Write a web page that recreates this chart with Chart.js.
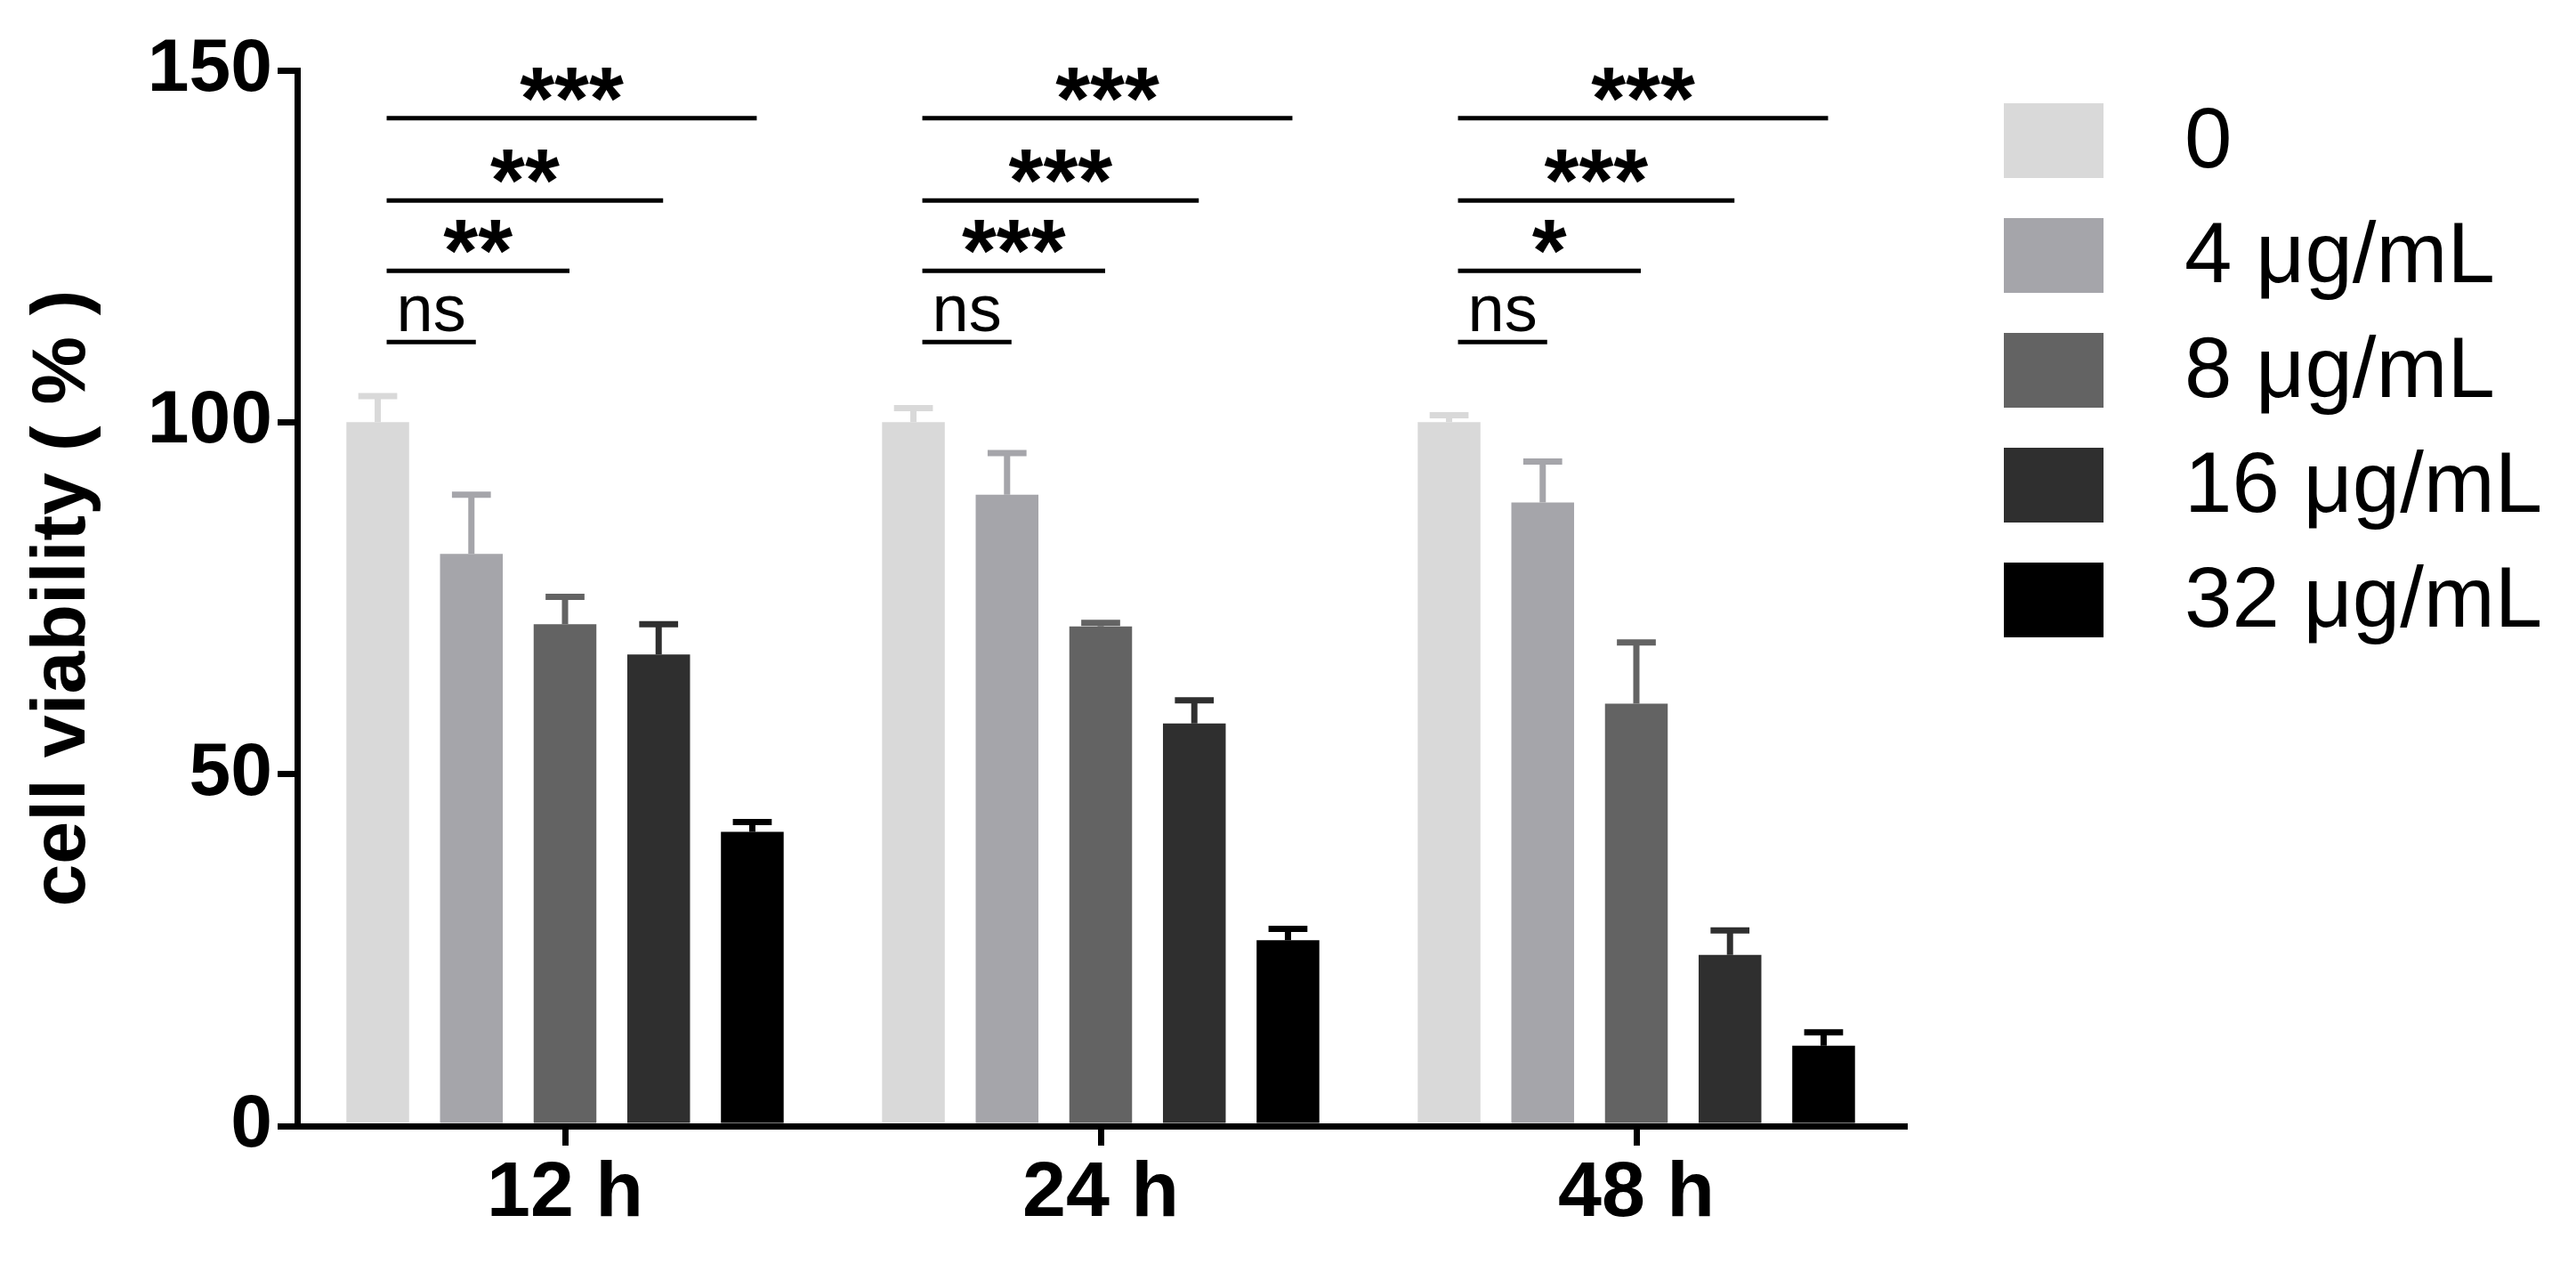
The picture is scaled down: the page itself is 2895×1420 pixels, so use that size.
<!DOCTYPE html>
<html><head><meta charset="utf-8">
<script src="https://cdn.jsdelivr.net/npm/chart.js@4"></script>
<style>html,body{margin:0;padding:0;background:#fff}</style>
</head><body>
<canvas id="c" width="2895" height="1420"></canvas>
<script>
const categories = ["12 h", "24 h", "48 h"];
const seriesLabels = ["0", "4 μg/mL", "8 μg/mL", "16 μg/mL", "32 μg/mL"];
const colors = ["#d9d9d9", "#a5a5aa", "#636363", "#2f2f2f", "#000000"];
const v0 = [100, 100, 100];
const v4 = [81.3, 89.7, 88.6];
const v8 = [71.3, 71.0, 60.0];
const v16 = [67.0, 57.2, 24.3];
const v32 = [41.8, 26.4, 11.4];
const e0 = [103.7, 102.0, 101.0];
const e4 = [89.7, 95.6, 94.4];
const e8 = [75.2, 71.5, 68.7];
const e16 = [71.3, 60.5, 27.8];
const e32 = [43.2, 28.0, 13.3];
const yTicks = [0, 50, 100, 150];
const sigLevels = [111.4, 121.5, 131.5, 143.2];
const sigLabels = [["ns","**","**","***"],["ns","***","***","***"],["ns","*","***","***"]];

const values = [v0, v4, v8, v16, v32];
const errs = [e0, e4, e8, e16, e32];
const FONT = "'Liberation Sans', Arial, sans-serif";

const overlay = {
  id: 'overlay',
  afterDatasetsDraw(chart) {
    const ctx = chart.ctx, y = chart.scales.y;
    ctx.save();
    values.forEach((vals, i) => {
      const meta = chart.getDatasetMeta(i);
      meta.data.forEach((bar, j) => {
        const yt = y.getPixelForValue(errs[i][j]);
        const cw = bar.width * 0.62;
        ctx.strokeStyle = colors[i];
        ctx.lineWidth = 7;
        ctx.beginPath();
        ctx.moveTo(bar.x, bar.y); ctx.lineTo(bar.x, yt);
        ctx.moveTo(bar.x - cw / 2, yt); ctx.lineTo(bar.x + cw / 2, yt);
        ctx.stroke();
      });
    });
    ctx.strokeStyle = '#000'; ctx.fillStyle = '#000'; ctx.lineWidth = 5;
    ctx.textAlign = 'center'; ctx.textBaseline = 'alphabetic';
    categories.forEach((c, j) => {
      const x0 = chart.getDatasetMeta(0).data[j].x + 10;
      for (let k = 1; k <= 4; k++) {
        const x1 = chart.getDatasetMeta(k).data[j].x + 5;
        const ly = y.getPixelForValue(sigLevels[k - 1]);
        ctx.beginPath(); ctx.moveTo(x0, ly); ctx.lineTo(x1, ly); ctx.stroke();
        const lab = sigLabels[j][k - 1];
        if (lab === 'ns') { ctx.font = "74px " + FONT; ctx.fillText(lab, (x0 + x1) / 2, ly - 12); }
        else { ctx.font = "bold 100px " + FONT; ctx.fillText(lab, (x0 + x1) / 2, ly + 12); }
      }
    });
    ctx.textAlign = 'left'; ctx.textBaseline = 'middle';
    ctx.font = "96px " + FONT;
    seriesLabels.forEach((l, i) => {
      const top = 116 + i * 129;
      ctx.fillStyle = colors[i];
      ctx.fillRect(2252, top, 112, 84);
      ctx.fillStyle = '#000';
      ctx.fillText(l, 2455, top + 46);
    });
    ctx.restore();
  }
};

new Chart(document.getElementById('c'), {
  type: 'bar',
  data: {
    labels: categories,
    datasets: values.map((v, i) => ({ label: seriesLabels[i], data: v, backgroundColor: colors[i], borderWidth: 0 }))
  },
  options: {
    responsive: false, animation: false, devicePixelRatio: 1,
    layout: { padding: { left: 20, right: 755, top: 79, bottom: 0 } },
    datasets: { bar: { categoryPercentage: 0.874, barPercentage: 0.67 } },
    plugins: { legend: { display: false }, tooltip: { enabled: false } },
    scales: {
      x: {
        grid: { display: true, drawOnChartArea: false, offset: false, tickLength: 22, lineWidth: 7, color: '#000' },
        border: { display: true, color: '#000', width: 7 },
        ticks: { color: '#000', font: { family: FONT, size: 88, weight: 'bold' }, padding: 2 },
        afterFit(s) { s.height = 155; }
      },
      y: {
        min: 0, max: 150,
        afterBuildTicks(s) { s.ticks = yTicks.map(v => ({ value: v })); },
        grid: { display: true, drawOnChartArea: false, tickLength: 22, lineWidth: 7, color: '#000' },
        border: { display: true, color: '#000', width: 7 },
        ticks: { color: '#000', font: { family: FONT, size: 84, weight: 'bold' }, padding: 6 },
        title: { display: true, text: 'cell viability ( % )', color: '#000', font: { family: FONT, size: 86, weight: 'bold' }, padding: 0 },
        afterFit(s) { s.width = 314; }
      }
    }
  },
  plugins: [overlay]
});
</script>
</body></html>
